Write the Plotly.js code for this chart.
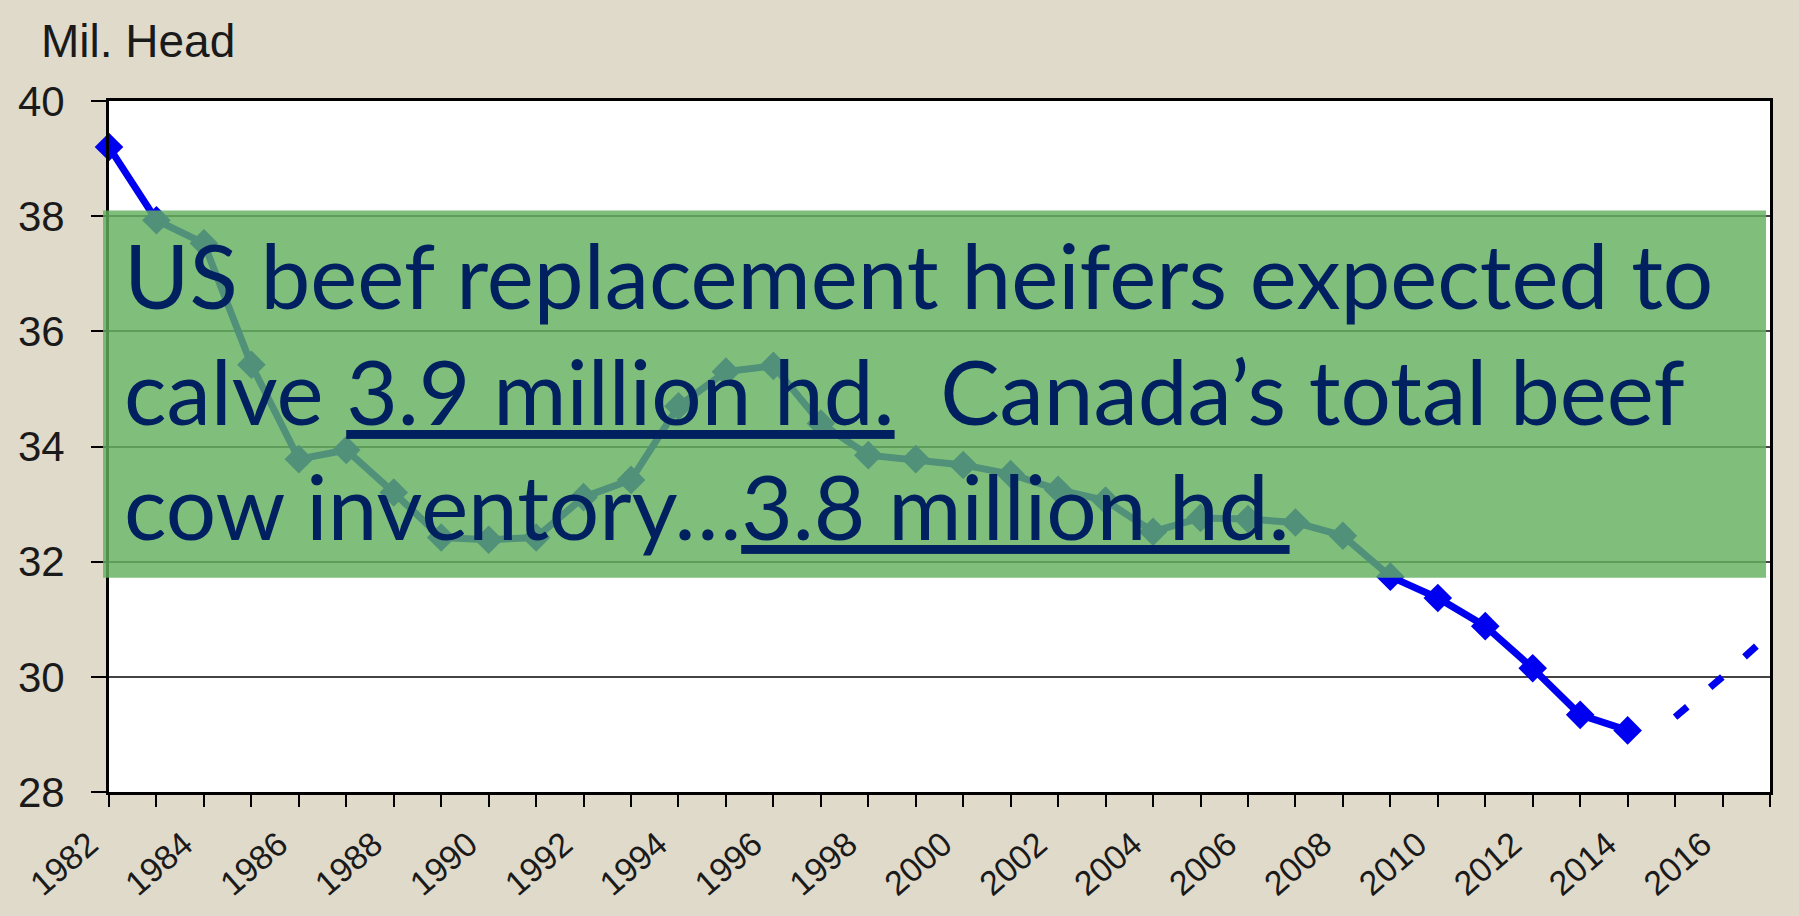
<!DOCTYPE html>
<html>
<head>
<meta charset="utf-8">
<script src="https://cdn.plot.ly/plotly-3.0.1.min.js"></script>
<style>
  html, body { margin: 0; padding: 0; background: #e0dacb; }
  #chart { width: 1799px; height: 916px; }
</style>
</head>
<body>
<div id="chart"></div>
<script>
// beef replacement heifers / cow inventory, million head
const years = [1982, 1983, 1984, 1985, 1986, 1987, 1988, 1989, 1990, 1991,
               1992, 1993, 1994, 1995, 1996, 1997, 1998, 1999, 2000, 2001,
               2002, 2003, 2004, 2005, 2006, 2007, 2008, 2009, 2010, 2011,
               2012, 2013, 2014];
const head = [39.2, 37.93, 37.53, 35.42, 33.78, 33.94, 33.2, 32.42, 32.38, 32.42,
              33.12, 33.42, 34.7, 35.3, 35.4, 34.4, 33.85, 33.78, 33.68, 33.52,
              33.25, 33.06, 32.52, 32.76, 32.74, 32.68, 32.45, 31.74, 31.37, 30.88,
              30.15, 29.34, 29.07];

// projected rebuild (dashed)
const projYears = [2015, 2016, 2017];
const projHead = [29.3, 30.0, 30.75];

const noteLines = [
  'US beef replacement heifers expected to',
  'calve <u>3.9 million hd.</u>\u00a0 Canada\u2019s total beef',
  'cow inventory\u2026<u>3.8 million hd.</u>'
];
const noteY = [36.98, 34.97, 32.97];

const blue = '#0000f0';

const traces = [
  {
    x: years,
    y: head,
    type: 'scatter',
    mode: 'lines+markers',
    line: { color: blue, width: 7 },
    marker: { symbol: 'diamond', size: 22, color: blue },
    cliponaxis: false,
    hoverinfo: 'x+y'
  },
  {
    x: projYears,
    y: projHead,
    type: 'scatter',
    mode: 'lines',
    line: { color: blue, width: 7, dash: '16px,30px' },
    hoverinfo: 'x+y'
  }
];

const layout = {
  width: 1799,
  height: 916,
  margin: { l: 109, r: 29, t: 101, b: 124, pad: 0 },
  paper_bgcolor: '#e0dacb',
  plot_bgcolor: '#ffffff',
  showlegend: false,
  font: { family: 'Liberation Sans, Arial, sans-serif', color: '#1a1a1a' },
  xaxis: {
    range: [1982, 2017],
    tick0: 1982,
    dtick: 2,
    tickangle: -41,
    ticks: 'outside',
    ticklen: 12,
    tickwidth: 2,
    tickcolor: '#000',
    ticklabelstandoff: 4,
    ticklabelshift: -20,
    tickfont: { size: 34, color: '#1a1a1a' },
    minor: { dtick: 1, ticks: 'outside', ticklen: 12, tickwidth: 2, tickcolor: '#000' },
    showgrid: false,
    zeroline: false,
    showline: true,
    linecolor: '#000',
    linewidth: 3,
    mirror: true
  },
  yaxis: {
    range: [28, 40],
    dtick: 2,
    ticks: 'outside',
    ticklen: 15,
    tickwidth: 2,
    tickcolor: '#000',
    ticklabelstandoff: 18,
    tickfont: { size: 42, color: '#1a1a1a' },
    showgrid: true,
    gridcolor: '#444',
    gridwidth: 2,
    zeroline: false,
    showline: true,
    linecolor: '#000',
    linewidth: 3,
    mirror: true
  },
  shapes: [
    {
      type: 'rect',
      layer: 'above',
      xref: 'paper', yref: 'y',
      x0: -0.0036, x1: 0.9976,
      y0: 31.72, y1: 38.1,
      fillcolor: 'rgba(99,177,94,0.82)',
      line: { width: 0 }
    }
  ],
  annotations: [
    {
      text: 'Mil. Head',
      xref: 'paper', yref: 'paper',
      x: -0.042, y: 1.087,
      xanchor: 'left', yanchor: 'middle',
      showarrow: false,
      font: { size: 46, color: '#1a1a1a' }
    }
  ].concat(noteLines.map((t, i) => ({
    text: t,
    xref: 'paper', yref: 'y',
    x: 0.008, y: noteY[i],
    xanchor: 'left', yanchor: 'middle',
    showarrow: false,
    font: { family: 'Lato, sans-serif', size: 89, color: '#002060' }
  })))
};

Plotly.newPlot('chart', traces, layout, { displayModeBar: false, staticPlot: true });
</script>
</body>
</html>
